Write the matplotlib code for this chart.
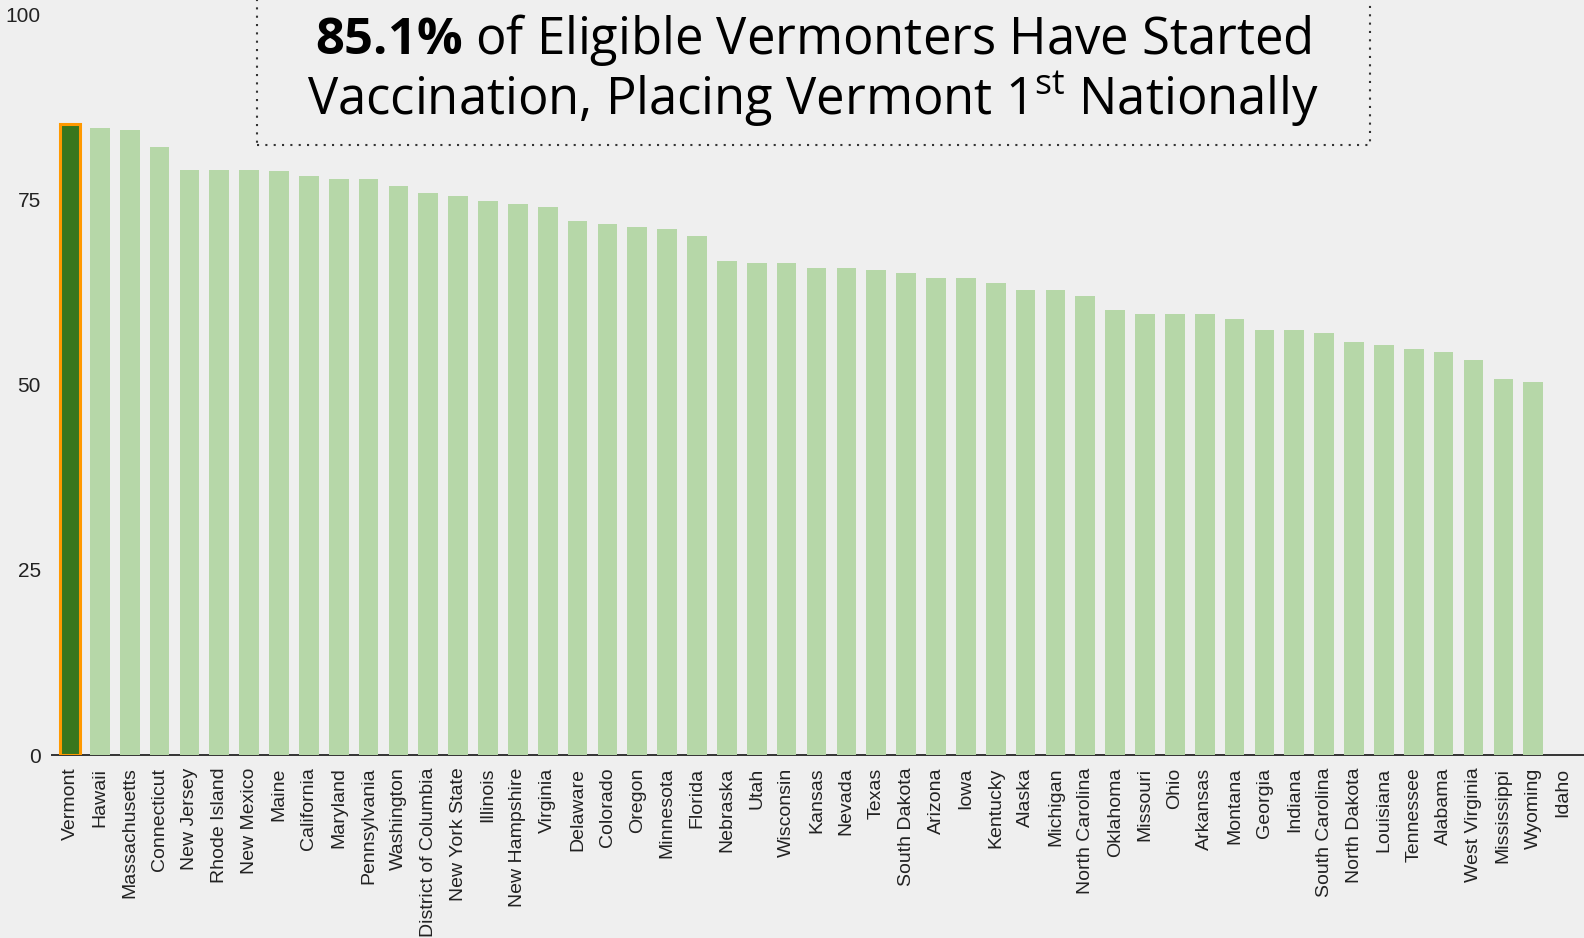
import numpy as np
import matplotlib.pyplot as plt
from matplotlib.patches import Rectangle

plt.rcParams['font.family'] = ['Liberation Sans', 'DejaVu Sans']
plt.rcParams['mathtext.fontset'] = 'custom'
plt.rcParams['mathtext.rm'] = 'Open Sans'
plt.rcParams['mathtext.bf'] = 'Open Sans:bold'

# share of eligible residents with at least one dose (%)
states = ["Vermont", "Hawaii", "Massachusetts", "Connecticut", "New Jersey", "Rhode Island",
          "New Mexico", "Maine", "California", "Maryland", "Pennsylvania", "Washington",
          "District of Columbia", "New York State", "Illinois", "New Hampshire", "Virginia",
          "Delaware", "Colorado", "Oregon", "Minnesota", "Florida", "Nebraska", "Utah",
          "Wisconsin", "Kansas", "Nevada", "Texas", "South Dakota", "Arizona", "Iowa",
          "Kentucky", "Alaska", "Michigan", "North Carolina", "Oklahoma", "Missouri", "Ohio",
          "Arkansas", "Montana", "Georgia", "Indiana", "South Carolina", "North Dakota",
          "Louisiana", "Tennessee", "Alabama", "West Virginia", "Mississippi", "Wyoming", "Idaho"]
pct = [85.1, 84.6, 84.3, 82.1, 78.9, 78.9, 78.9, 78.8, 78.1, 77.7, 77.7, 76.8,
       75.9, 75.4, 74.8, 74.4, 73.9, 72.1, 71.7, 71.3, 71.0, 70.1, 66.6, 66.4,
       66.4, 65.7, 65.7, 65.5, 65.0, 64.4, 64.4, 63.7, 62.8, 62.8, 61.9, 60.1,
       59.5, 59.5, 59.5, 58.8, 57.3, 57.3, 57.0, 55.7, 55.3, 54.8, 54.4, 53.3,
       50.8, 50.4, 0]

bg = '#efefef'
fig = plt.figure(figsize=(15.84, 9.38), dpi=100, facecolor=bg)
ax = fig.add_axes([52/1584, (938-755)/938, 1 - 52/1584, (755-14)/938])
ax.set_facecolor(bg)

x = np.arange(len(states))
colors = ['#38761d'] + ['#b6d7a8'] * (len(states) - 1)
bars = ax.bar(x, pct, width=0.66, color=colors, zorder=2)
bars[0].set_edgecolor('#ff9900')
bars[0].set_linewidth(2.2)

ax.set_xlim(-0.6, 50.7)
ax.set_ylim(0, 100)
ax.set_yticks([0, 25, 50, 75, 100])
ax.set_xticks(x)
ax.set_xticklabels(states, rotation=90, ha='center', va='top')
ax.tick_params(axis='both', length=0, labelsize=14, colors='#222222')
ax.tick_params(axis='x', pad=9)
ax.tick_params(axis='y', pad=8, labelsize=15)

for s in ['top', 'right', 'left']:
    ax.spines[s].set_visible(False)
ax.spines['bottom'].set_color('#333333')
ax.spines['bottom'].set_linewidth(1.4)
ax.spines['bottom'].set_zorder(0.5)

# title box with dotted border
box = Rectangle((257/1584, 1 - 145/938), (1370-257)/1584, 160/938, transform=fig.transFigure,
                fill=False, edgecolor='#333333', linestyle=(0, (1, 3)), linewidth=1.5)
fig.patches.append(box)
fig.text(813/1584, 1 - 40/938, r"$\mathbf{85.1\%}$ of Eligible Vermonters Have Started",
         ha='center', va='center', fontsize=36.5, family='Open Sans', color='black')
fig.text(813/1584, 1 - 99/938, r"Vaccination, Placing Vermont 1$^{\mathrm{st}}$ Nationally",
         ha='center', va='center', fontsize=36.5, family='Open Sans', color='black')

fig.savefig('out.png', dpi=100, facecolor=bg)
